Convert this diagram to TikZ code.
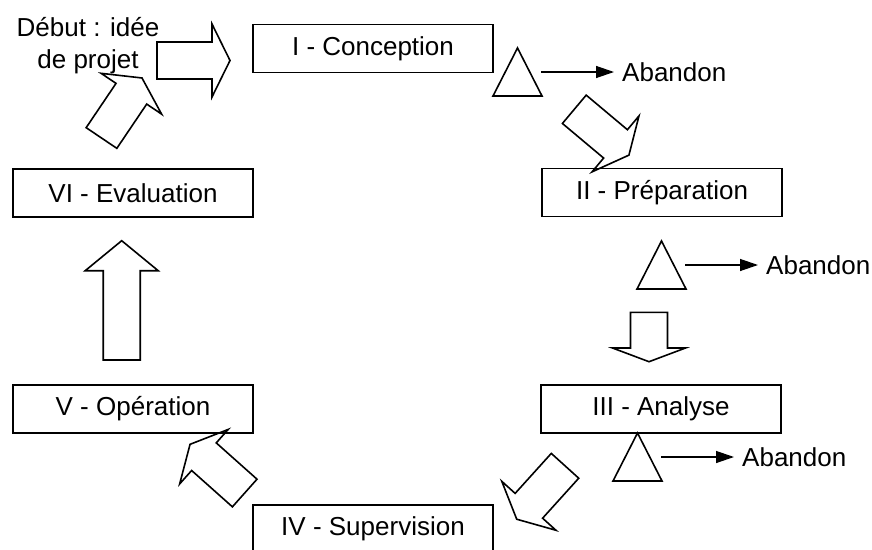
\documentclass[tikz,border=0pt]{standalone}
\usepackage{fontspec}
\setmainfont{Liberation Sans}
\usetikzlibrary{arrows.meta}

\tikzset{
  stage/.style={draw, line width=1.6pt, minimum width=240, minimum height=48, inner sep=0},
  blk/.style={draw, line width=1.6pt},
  stoptri/.style={draw, line width=1.6pt},
  quit/.style={line width=1.3pt, -{Triangle[length=18pt, width=12pt]}},
  outcome/.style={anchor=west, inner xsep=8pt, inner ysep=0},
  pics/blockarrow/.style 2 args={code={
    \draw[blk] (0,-18.5) -- ({#1-#2},-18.5) -- ({#1-#2},-36.5) -- (#1,0)
      -- ({#1-#2},36.5) -- ({#1-#2},18.5) -- (0,18.5) -- cycle;
  }}
}

\begin{document}
\begin{tikzpicture}[x=1pt, y=-1pt, font=\fontsize{26}{32}\selectfont]
\useasboundingbox (0,0) rectangle (872,549);

\node[stage] (conception) at (373,48.5) {I - Conception};
\node[stage] (preparation) at (662,192.5) {II - Préparation};
\node[stage] (analyse) at (661,409) {III - Analyse};
\node[stage] (supervision) at (373,529) {IV - Supervision};
\node[stage] (operation) at (133,409) {V - Opération};
\node[stage] (evaluation) at (133,193) {VI - Evaluation};
\node[align=center] (idea) at (88,46) {Début : idée\\de projet};

\pic at (157,60.5) {blockarrow={73}{18}};
\pic[rotate=-40] at (574.3,109.3) {blockarrow={71.3}{17.5}};
\pic[rotate=-90] at (649,312.3) {blockarrow={49.4}{13.7}};
\pic[rotate=-132.1] at (565,465.8) {blockarrow={72}{18.1}};
\pic[rotate=138.3] at (244.7,493) {blockarrow={73.2}{18.6}};
\pic[rotate=90] at (121.7,360) {blockarrow={119.3}{30}};
\pic[rotate=56] at (101.5,138) {blockarrow={72.4}{19}};

\draw[stoptri] (493,96) -- (517.5,48) -- (542,96) -- cycle;
\draw[stoptri] (637,289) -- (661.5,241) -- (686,289) -- cycle;
\draw[stoptri] (613,481) -- (637.5,433) -- (662,481) -- cycle;

\coordinate (stop1) at (541,72);
\coordinate (stop2) at (685,265);
\coordinate (stop3) at (661,457);
\node[outcome] (abandon1) at (614,72) {Abandon};
\node[outcome] (abandon2) at (758,265) {Abandon};
\node[outcome] (abandon3) at (734,457) {Abandon};
\draw[quit] (stop1) -- (abandon1);
\draw[quit] (stop2) -- (abandon2);
\draw[quit] (stop3) -- (abandon3);

\end{tikzpicture}
\end{document}
